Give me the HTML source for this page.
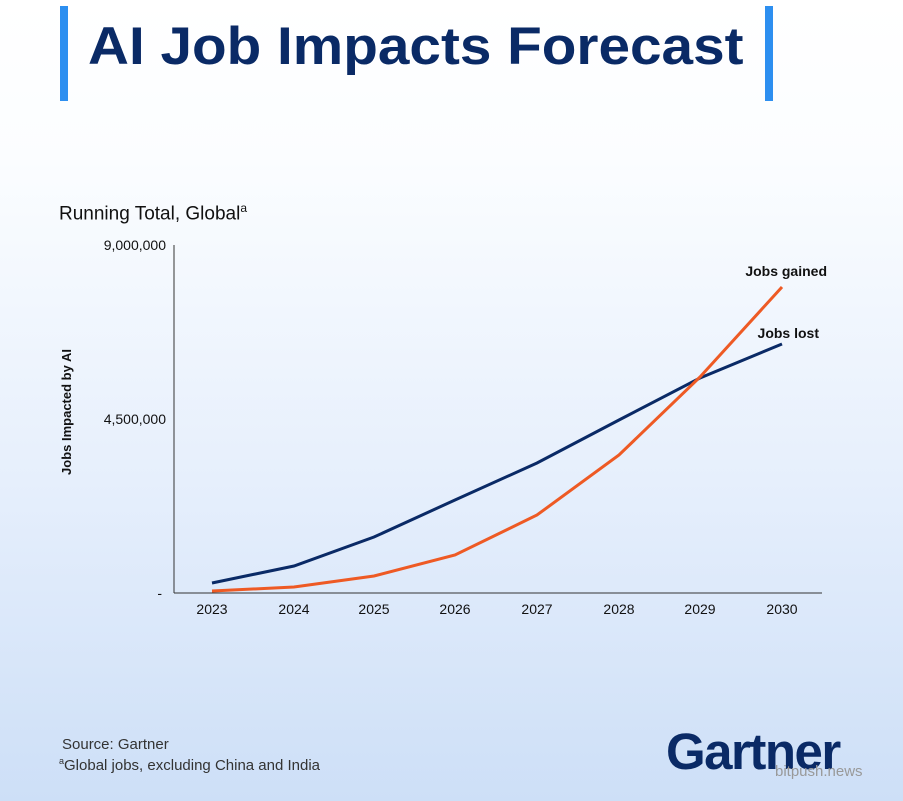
<!DOCTYPE html>
<html><head><style>
body{margin:0;width:903px;height:801px;overflow:hidden;background:linear-gradient(#ffffff 0%,#fbfdff 20%,#e6effc 60%,#cddff7 100%);font-family:"Liberation Sans",sans-serif;position:relative}
.bar{position:absolute;width:8px;background:#2d8ff0;top:6px;height:95px}
</style></head><body>
<div class="bar" style="left:60px"></div>
<div class="bar" style="left:765px"></div>
<div style="position:absolute;left:88px;top:16px;font-size:53px;font-weight:bold;color:#0a2a66;letter-spacing:0;transform:scaleX(1.07);transform-origin:left;white-space:nowrap">AI Job Impacts Forecast</div>
<div style="position:absolute;left:59px;top:201px;font-size:19px;color:#111">Running Total, Global<sup style="font-size:12px">a</sup></div>
<svg width="903" height="801" style="position:absolute;left:0;top:0">
<line x1="174" y1="245" x2="174" y2="593" stroke="#333" stroke-width="1"/>
<line x1="174" y1="593" x2="822" y2="593" stroke="#333" stroke-width="1"/>
<g font-family="Liberation Sans" font-size="14" fill="#111" text-anchor="end">
<text x="166" y="250">9,000,000</text><text x="166" y="424">4,500,000</text><text x="162" y="598">-</text></g>
<g font-family="Liberation Sans" font-size="14" fill="#111" text-anchor="middle">
<text x="212" y="614">2023</text><text x="294" y="614">2024</text><text x="374" y="614">2025</text><text x="455" y="614">2026</text><text x="537" y="614">2027</text><text x="619" y="614">2028</text><text x="700" y="614">2029</text><text x="782" y="614">2030</text></g>
<text transform="translate(71,412) rotate(-90)" text-anchor="middle" font-family="Liberation Sans" font-size="13" font-weight="bold" fill="#111">Jobs Impacted by AI</text>
<polyline fill="none" stroke="#0a2a66" stroke-width="3" points="212,583 294,566 374,537 455,500 537,463 619,420 700,378 782,344"/>
<polyline fill="none" stroke="#ee5a24" stroke-width="3" points="212,591 294,587 374,576 455,555 537,515 619,455 700,377 782,287"/>
<g font-family="Liberation Sans" font-size="14" font-weight="bold" fill="#111" text-anchor="end">
<text x="827" y="276">Jobs gained</text><text x="819" y="338">Jobs lost</text></g>
</svg>
<div style="position:absolute;left:62px;top:736px;font-size:15px;color:#333">Source: Gartner</div>
<div style="position:absolute;left:59px;top:756px;font-size:15px;color:#333"><sup style="font-size:9px">a</sup>Global jobs, excluding China and India</div>
<div style="position:absolute;left:666px;top:722px;font-size:51px;font-weight:bold;color:#0a2a66;letter-spacing:-1.5px">Gartner</div>
<div style="position:absolute;left:775px;top:763px;font-size:15px;color:#999">bitpush.news</div>
</body></html>
